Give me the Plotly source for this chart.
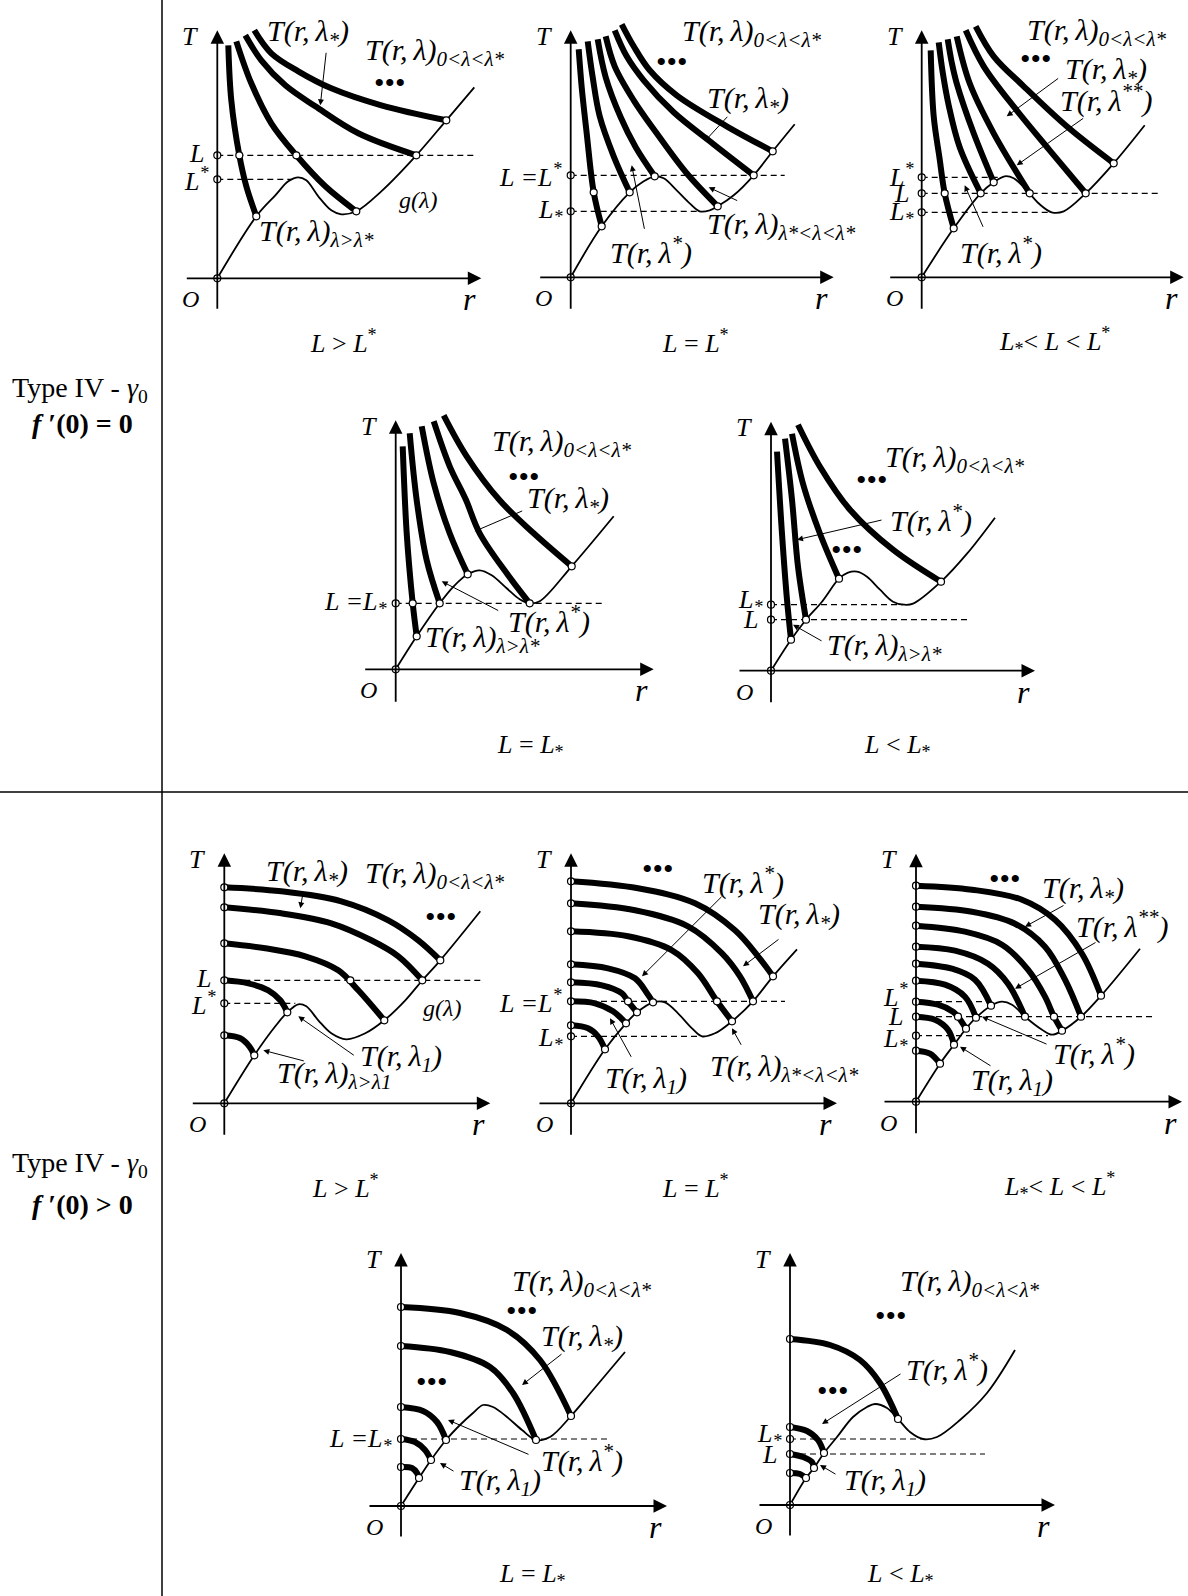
import plotly.graph_objects as go

W, H = 1188, 1596
FONT = "Liberation Serif"

# each panel has its own r-T frame: origin at O, one unit = one screen pixel
# g(lambda) curve (thin), thick T(r, lambda) branches, open circles, dashed levels (T, r_end)

G1 = [(0, 0), (39, 62), (58, 83), (71, 97), (81, 101), (89, 98), (101, 82), (114, 68), (124, 64),
      (139, 67), (164, 87), (199, 123), (229, 158), (257, 191)]
THICK1 = [[(11, 233), (14, 178), (22, 123), (29, 92), (39, 62)],
          [(19, 237), (34, 195), (54, 155), (79, 123), (108, 92), (139, 67)],
          [(28, 243), (44, 218), (68, 193), (98, 172), (141, 145), (199, 123)],
          [(37, 248), (54, 225), (81, 207), (114, 190), (164, 173), (229, 158)]]
DOTS1 = [(0, 0), (0, 123), (0, 99), (22, 123), (79, 123), (199, 123), (39, 62), (139, 67), (229, 158)]
DASH1 = [(123, 256), (99, 74)]

G2 = [(0, 0), (31, 51), (59, 85), (73, 96), (84, 101), (93, 99), (106, 87), (119, 74), (129, 66),
      (139, 67), (147, 71), (163, 82), (183, 102), (202, 126), (224, 153)]
THICK2 = [[(8, 228), (11, 190), (16, 144), (23, 85), (31, 51)],
          [(17, 236), (22, 200), (29, 161), (43, 121), (59, 85)],
          [(27, 238), (35, 200), (50, 160), (65, 130), (84, 101)],
          [(35, 241), (44, 211), (63, 177), (86, 144), (116, 104), (147, 71)],
          [(44, 247), (56, 221), (73, 197), (103, 165), (143, 133), (183, 102)],
          [(51, 253), (63, 231), (79, 207), (106, 182), (156, 151), (202, 126)]]
DOTS2 = [(0, 0), (0, 102), (0, 66), (23, 85), (59, 85), (31, 51), (84, 101), (147, 71), (183, 102), (202, 126)]
DASH2 = [(102, 214), (66, 129)]

G3 = [(0, 0), (32, 49), (59, 84), (72, 95), (83, 101), (92, 99), (105, 87), (118, 73), (130, 65),
      (142, 66), (164, 84), (192, 114), (223, 152)]
THICK3 = [[(9, 227), (12, 161), (18, 118), (23, 84), (32, 49)],
          [(17, 235), (21, 205), (27, 172), (38, 130), (59, 84)],
          [(26, 238), (30, 215), (35, 194), (52, 144), (72, 95)],
          [(35, 241), (48, 194), (72, 144), (108, 84)],
          [(44, 247), (62, 211), (95, 167), (128, 127), (164, 84)],
          [(54, 251), (72, 221), (102, 191), (145, 151), (192, 114)]]
DOTS3 = [(0, 0), (0, 100), (0, 84), (0, 65), (23, 84), (32, 49), (59, 84), (72, 95), (108, 84), (164, 84), (192, 114)]
DASH3 = [(100, 78), (84, 237), (65, 130)]

G4 = [(0, 0), (21, 33), (44, 66), (58, 83), (72, 95), (84, 99), (96, 94), (111, 81), (124, 70),
      (134, 66), (144, 68), (176, 103), (218, 153)]
THICK4 = [[(7, 223), (11, 136), (17, 66), (21, 33)],
          [(14, 236), (21, 169), (31, 109), (44, 66)],
          [(26, 243), (38, 186), (54, 136), (72, 95)],
          [(38, 248), (54, 203), (70, 170), (84, 136), (111, 96), (134, 66)],
          [(48, 254), (71, 213), (104, 169), (138, 136), (176, 103)]]
DOTS4 = [(0, 0), (0, 66), (17, 66), (21, 33), (44, 66), (72, 95), (134, 66), (176, 103)]
DASH4 = [(66, 206)]

G5 = [(0, 0), (20, 31), (35, 51), (51, 69), (68, 92), (77, 98), (86, 99), (96, 94), (109, 81),
      (122, 69), (133, 66), (142, 67), (170, 89), (196, 117), (224, 153)]
THICK5 = [[(6, 219), (11, 137), (16, 71), (20, 31)],
          [(14, 232), (21, 171), (27, 104), (35, 51)],
          [(21, 237), (32, 187), (49, 137), (68, 92)],
          [(27, 246), (49, 204), (79, 161), (122, 121), (170, 89)]]
DOTS5 = [(0, 0), (0, 66), (0, 51), (20, 31), (35, 51), (68, 92), (170, 89)]
DASH5 = [(66, 132), (51, 197)]

G6 = [(0, 0), (30, 48), (51, 77), (63, 91), (74, 99), (82, 97), (94, 83), (107, 70), (122, 64),
      (141, 70), (160, 83), (181, 103), (198, 123), (216, 143), (256, 192)]
THICK6 = [[(0, 68), (16, 65), (25, 57), (30, 48)],
          [(0, 123), (24, 120), (44, 113), (56, 103), (63, 91)],
          [(0, 160), (41, 155), (81, 147), (114, 133), (134, 113), (160, 83)],
          [(0, 196), (57, 190), (107, 180), (147, 163), (174, 147), (198, 123)],
          [(0, 216), (57, 212), (117, 202), (164, 183), (194, 163), (216, 143)]]
DOTS6 = [(0, 0), (0, 216), (0, 196), (0, 160), (0, 123), (0, 100), (0, 68), (30, 48), (63, 91),
         (126, 123), (160, 83), (198, 123), (216, 143)]
DASH6 = [(123, 256), (100, 71)]

G7 = [(0, 0), (34, 54), (55, 80), (66, 91), (82, 101), (94, 101), (107, 90), (121, 75), (131, 67),
      (144, 70), (161, 82), (182, 102), (202, 127), (226, 154)]
THICK7 = [[(0, 78), (17, 75), (27, 67), (34, 54)],
          [(0, 102), (24, 100), (42, 92), (55, 80)],
          [(0, 121), (31, 118), (51, 110), (57, 102), (66, 91)],
          [(0, 139), (37, 135), (64, 125), (76, 110), (82, 101)],
          [(0, 172), (57, 167), (101, 153), (127, 130), (146, 102), (161, 82)],
          [(0, 200), (64, 193), (117, 177), (151, 150), (169, 127), (182, 102)],
          [(0, 222), (67, 215), (124, 200), (164, 173), (187, 147), (202, 127)]]
DOTS7 = [(0, 0), (0, 222), (0, 200), (0, 172), (0, 139), (0, 121), (0, 102), (0, 78), (0, 67),
         (34, 54), (55, 80), (57, 102), (66, 91), (82, 101), (146, 102), (161, 82), (182, 102), (202, 127)]
DASH7 = [(102, 214), (67, 129)]

G8 = [(0, 0), (24, 38), (38, 57), (50, 73), (60, 84), (75, 96), (86, 100), (96, 97), (109, 85),
      (126, 72), (136, 67), (146, 71), (165, 85), (185, 106), (224, 153)]
THICK8 = [[(0, 216), (56, 212), (106, 202), (139, 182), (166, 148), (185, 106)],
          [(0, 195), (56, 190), (99, 178), (129, 155), (149, 122), (165, 85)],
          [(0, 176), (49, 170), (86, 157), (112, 132), (129, 105), (138, 85), (146, 71)],
          [(0, 155), (39, 151), (72, 138), (92, 118), (109, 85)],
          [(0, 138), (36, 133), (59, 122), (75, 96)],
          [(0, 121), (29, 117), (49, 105), (60, 84)],
          [(0, 100), (22, 97), (37, 90), (42, 85), (50, 73)],
          [(0, 85), (19, 82), (32, 72), (38, 57)],
          [(0, 51), (14, 48), (24, 38)]]
DOTS8 = [(0, 0), (0, 216), (0, 195), (0, 176), (0, 155), (0, 138), (0, 121), (0, 100), (0, 85), (0, 66),
         (0, 51), (185, 106), (165, 85), (146, 71), (138, 85), (109, 85), (75, 96), (60, 84), (42, 85),
         (50, 73), (38, 57), (24, 38)]
DASH8 = [(100, 72), (85, 236), (66, 132)]

G9 = [(0, 0), (18, 28), (30, 46), (45, 66), (59, 81), (72, 93), (82, 101), (92, 99), (106, 89),
      (121, 76), (135, 66), (149, 69), (170, 90), (192, 116), (224, 154)]
THICK9 = [[(0, 39), (11, 38), (16, 33), (18, 28)],
          [(0, 67), (14, 64), (24, 56), (30, 46)],
          [(0, 99), (22, 95), (36, 84), (45, 66)],
          [(0, 160), (49, 154), (89, 139), (112, 113), (135, 66)],
          [(0, 199), (59, 193), (106, 176), (139, 146), (170, 90)]]
DOTS9 = [(0, 0), (0, 199), (0, 160), (0, 99), (0, 67), (0, 39), (18, 28), (30, 46), (45, 66), (135, 66), (170, 90)]
DASH9 = [(67, 206)]

G10 = [(0, 0), (16, 27), (24, 37), (34, 52), (47, 68), (63, 88), (77, 98), (85, 101), (97, 97),
       (108, 86), (120, 73), (133, 66), (147, 68), (170, 85), (197, 112), (225, 155)]
THICK10 = [[(0, 32), (10, 31), (16, 27)],
           [(0, 51), (13, 48), (22, 43), (24, 37)],
           [(0, 78), (17, 74), (28, 65), (34, 52)],
           [(0, 166), (40, 160), (70, 145), (90, 122), (108, 86)]]
DOTS10 = [(0, 0), (0, 166), (0, 78), (0, 66), (0, 51), (0, 32), (16, 27), (24, 37), (34, 52), (108, 86)]
DASH10 = [(66, 132), (51, 195)]

# level labels on the T axis
LEVELS1 = [("L", 125), ("L<sup>*</sup>", 99)]
LEVELS2 = [("L =L<sup>*</sup>", 102), ("L<sub>*</sub>", 66)]
LEVELS3 = [("L<sup>*</sup>", 102), ("L", 84), ("L<sub>*</sub>", 64)]
LEVELS4 = [("L =L<sub>*</sub>", 66)]
LEVELS5 = [("L<sub>*</sub>", 70), ("L", 51)]
LEVELS6 = [("L", 125), ("L<sup>*</sup>", 100)]
LEVELS7 = [("L =L<sup>*</sup>", 102), ("L<sub>*</sub>", 64)]
LEVELS8 = [("L<sup>*</sup>", 106), ("L", 85), ("L<sub>*</sub>", 62)]
LEVELS9 = [("L =L<sub>*</sub>", 66)]
LEVELS10 = [("L<sub>*</sub>", 70), ("L", 51)]

SP = "\u2009"
TRL = "T(r," + SP + "λ)"
LO = TRL + "<sub>0&lt;λ&lt;λ*</sub>"
LS = "T(r," + SP + "λ<sub>*</sub>)"
LU = "T(r," + SP + "λ<sup>*</sup>)"
LUU = "T(r," + SP + "λ<sup>**</sup>)"
L1 = "T(r," + SP + "λ<sub>1</sub>)"
LMID = TRL + "<sub>λ*&lt;λ&lt;λ*</sub>"
LGT = TRL + "<sub>λ&gt;λ*</sub>"

LABELS1 = [("big", LS, 91, 245, "center"), ("big", LO, 146, 226, "left"), ("dots", "", 173, 196, "center"),
           ("small", "g(λ)", 201, 78, "center"), ("big", LGT, 40, 45, "left")]
LABELS2 = [("big", LO, 109, 244, "left"), ("dots", "", 101, 216, "center"), ("big", LS, 177, 177, "center"),
           ("big", LMID, 134, 51, "left"), ("big", LU, 80, 27, "center")]
LABELS3 = [("big", LO, 103, 245, "left"), ("dots", "", 114, 219, "center"), ("big", LS, 184, 206, "center"),
           ("big", LUU, 185, 179, "center"), ("big", LU, 79, 27, "center")]
LABELS4 = [("big", LO, 94, 226, "left"), ("dots", "", 128, 193, "center"), ("big", LS, 172, 169, "center"),
           ("big", LU, 153, 50, "center"), ("big", LGT, 27, 30, "left")]
LABELS5 = [("big", LO, 112, 212, "left"), ("dots", "", 101, 191, "center"), ("big", LU, 160, 152, "center"),
           ("dots", "", 76, 121, "center"), ("big", LGT, 54, 24, "left")]
LABELS6 = [("big", LS, 83, 230, "center"), ("big", LO, 139, 228, "left"), ("dots", "", 217, 187, "center"),
           ("small", "g(λ)", 218, 95, "center"), ("big", L1, 177, 45, "center"),
           ("big", TRL + "<sub>λ&gt;λ1</sub>", 51, 28, "left")]
LABELS7 = [("dots", "", 87, 235, "center"), ("big", LU, 172, 223, "center"), ("big", LS, 228, 187, "center"),
           ("big", LMID, 137, 35, "left"), ("big", L1, 75, 23, "center")]
LABELS8 = [("dots", "", 89, 223, "center"), ("big", LS, 167, 212, "center"), ("big", LUU, 206, 177, "center"),
           ("big", LU, 178, 50, "center"), ("big", L1, 96, 20, "center")]
LABELS9 = [("big", LO, 109, 223, "left"), ("dots", "", 121, 196, "center"), ("big", LS, 181, 168, "center"),
           ("dots", "", 31, 125, "center"), ("big", LU, 181, 48, "center"), ("big", L1, 99, 24, "center")]
LABELS10 = [("big", LO, 108, 222, "left"), ("dots", "", 101, 190, "center"), ("big", LU, 157, 138, "center"),
            ("dots", "", 43, 115, "center"), ("big", L1, 95, 23, "center")]

# pointer arrows: tail r, tail T, head r, head T
ARROWS1 = [(109, 227, 103, 173)]
ARROWS2 = [(158, 162, 134, 136), (168, 76, 138, 90), (74, 47, 61, 112)]
ARROWS3 = [(138, 200, 85, 161), (163, 160, 95, 112), (62, 49, 43, 92)]
ARROWS4 = [(128, 159, 79, 138), (104, 58, 46, 88)]
ARROWS5 = [(112, 151, 26, 131), (52, 29, 22, 46)]
ARROWS6 = [(79, 212, 76, 195), (131, 47, 74, 87), (81, 42, 39, 53)]
ARROWS7 = [(152, 208, 71, 127), (209, 165, 172, 137), (171, 57, 161, 75), (61, 45, 39, 85)]
ARROWS8 = [(149, 197, 109, 175), (181, 160, 99, 113), (132, 57, 66, 85), (76, 35, 44, 55)]
ARROWS9 = [(162, 153, 121, 121), (129, 51, 47, 86), (54, 34, 39, 43)]
ARROWS10 = [(112, 132, 32, 81), (47, 30, 30, 40)]

# origin O on the page (px) and axis extent (r_min, r_tip, T_min, T_tip)
PANELS = [
    dict(origin=(217.3, 278.3), axis=(-32, 264, -32, 248), g=G1, thick=THICK1, dots=DOTS1, dash=DASH1, lev=LEVELS1, lab=LABELS1, arr=ARROWS1),
    dict(origin=(570.7, 277.3), axis=(-32, 263, -33, 247), g=G2, thick=THICK2, dots=DOTS2, dash=DASH2, lev=LEVELS2, lab=LABELS2, arr=ARROWS2),
    dict(origin=(921.7, 277.3), axis=(-33, 262, -33, 247), g=G3, thick=THICK3, dots=DOTS3, dash=DASH3, lev=LEVELS3, lab=LABELS3, arr=ARROWS3),
    dict(origin=(395.7, 669.3), axis=(-32, 258, -34, 249), g=G4, thick=THICK4, dots=DOTS4, dash=DASH4, lev=LEVELS4, lab=LABELS4, arr=ARROWS4),
    dict(origin=(771.0, 670.7), axis=(-33, 264, -33, 249), g=G5, thick=THICK5, dots=DOTS5, dash=DASH5, lev=LEVELS5, lab=LABELS5, arr=ARROWS5),
    dict(origin=(224.3, 1103.3), axis=(-33, 266, -33, 250), g=G6, thick=THICK6, dots=DOTS6, dash=DASH6, lev=LEVELS6, lab=LABELS6, arr=ARROWS6),
    dict(origin=(571.0, 1103.3), axis=(-33, 266, -33, 250), g=G7, thick=THICK7, dots=DOTS7, dash=DASH7, lev=LEVELS7, lab=LABELS7, arr=ARROWS7),
    dict(origin=(916.0, 1101.7), axis=(-33, 266, -33, 248), g=G8, thick=THICK8, dots=DOTS8, dash=DASH8, lev=LEVELS8, lab=LABELS8, arr=ARROWS8),
    dict(origin=(401.0, 1506.0), axis=(-33, 266, -32, 253), g=G9, thick=THICK9, dots=DOTS9, dash=DASH9, lev=LEVELS9, lab=LABELS9, arr=ARROWS9),
    dict(origin=(790.0, 1505.0), axis=(-32, 265, -32, 252), g=G10, thick=THICK10, dots=DOTS10, dash=DASH10, lev=LEVELS10, lab=LABELS10, arr=ARROWS10),
]

CAPTIONS = [("<i>L</i> &gt; <i>L</i><sup>*</sup>", 343, 341), ("<i>L</i> = <i>L</i><sup>*</sup>", 695, 341),
            ("<i>L</i><sub>*</sub>&lt; <i>L</i> &lt; <i>L</i><sup>*</sup>", 1054, 341),
            ("<i>L</i> = <i>L</i><sub>*</sub>", 530, 746), ("<i>L</i> &lt; <i>L</i><sub>*</sub>", 897, 746),
            ("<i>L</i> &gt; <i>L</i><sup>*</sup>", 345, 1186), ("<i>L</i> = <i>L</i><sup>*</sup>", 695, 1186),
            ("<i>L</i><sub>*</sub>&lt; <i>L</i> &lt; <i>L</i><sup>*</sup>", 1059, 1186),
            ("<i>L</i> = <i>L</i><sub>*</sub>", 532, 1575), ("<i>L</i> &lt; <i>L</i><sub>*</sub>", 900, 1575)]
ROW_TITLES = [("Type IV - <i>γ</i><sub>0</sub>", 80, 389), ("<b><i>f</i> ′(0) = 0</b>", 82, 423),
              ("Type IV - <i>γ</i><sub>0</sub>", 80, 1164), ("<b><i>f</i> ′(0) &gt; 0</b>", 82, 1204)]

fig = go.Figure()
layout_axes = {}
annotations = []


def add_curve(pts, width, xa, ya, dash=None, shape="spline"):
    fig.add_trace(go.Scatter(
        x=[p[0] for p in pts], y=[p[1] for p in pts], mode="lines",
        line=dict(color="black", width=width, shape=shape, smoothing=1.0, dash=dash),
        xaxis=xa, yaxis=ya, showlegend=False, hoverinfo="skip"))


def txt(xa, ya, text, x, y, size, xanchor="center"):
    annotations.append(dict(xref=xa, yref=ya, x=x, y=y, text=text, showarrow=False,
                            font=dict(family=FONT, size=size, color="black"),
                            xanchor=xanchor, yanchor="middle"))


def arrow(xa, ya, tail, head, width, size):
    annotations.append(dict(xref=xa, yref=ya, axref=xa, ayref=ya, x=head[0], y=head[1],
                            ax=tail[0], ay=tail[1], text="", showarrow=True, arrowhead=2,
                            arrowsize=size, arrowwidth=width, arrowcolor="black"))


for i, p in enumerate(PANELS, start=1):
    s = "" if i == 1 else str(i)
    xa, ya = "x" + s, "y" + s
    ox, oy = p["origin"]
    left, right = max(0, ox - 55), min(W, ox + 285)
    top, bottom = max(0, oy - 285), min(H, oy + 60)
    layout_axes["xaxis" + s] = dict(domain=[left / W, right / W], range=[left - ox, right - ox],
                                    visible=False, fixedrange=True, anchor=ya)
    layout_axes["yaxis" + s] = dict(domain=[1 - bottom / H, 1 - top / H], range=[oy - bottom, oy - top],
                                    visible=False, fixedrange=True, anchor=xa)

    rmin, rtip, tmin, ttip = p["axis"]
    arrow(xa, ya, (rmin, 0), (rtip, 0), 1.8, 1.5)
    arrow(xa, ya, (0, tmin), (0, ttip), 1.8, 1.5)
    txt(xa, ya, "<i>T</i>", -27, ttip - 6, 26)
    txt(xa, ya, "<i>O</i>", -27, -21, 24)
    txt(xa, ya, "<i>r</i>", rtip - 12, -21, 32)

    add_curve(p["g"], 1.8, xa, ya)
    for branch in p["thick"]:
        add_curve(branch, 6, xa, ya)
    for level, rend in p["dash"]:
        add_curve([(0, level), (rend, level)], 1.2, xa, ya, dash="6px,4px", shape="linear")
    fig.add_trace(go.Scatter(
        x=[d[0] for d in p["dots"]], y=[d[1] for d in p["dots"]], mode="markers",
        marker=dict(symbol="circle", size=7, color="white", line=dict(color="black", width=1.2)),
        xaxis=xa, yaxis=ya, showlegend=False, hoverinfo="skip", cliponaxis=False))

    for text, level in p["lev"]:
        edge = -6 if "<su" in text else -11
        txt(xa, ya, "<i>" + text + "</i>", edge, level, 26, "right")
    for kind, text, r, t, anchor in p["lab"]:
        if kind == "dots":
            txt(xa, ya, "•••", r, t, 30, anchor)
        elif kind == "small":
            txt(xa, ya, "<i>" + text + "</i>", r, t, 24, anchor)
        else:
            txt(xa, ya, "<i>" + text + "</i>", r, t, 30, anchor)
    for tr, tt, hr, ht in p["arr"]:
        arrow(xa, ya, (tr, tt), (hr, ht), 1.0, 1.2)

for text, x, y in CAPTIONS:
    annotations.append(dict(xref="paper", yref="paper", x=x / W, y=1 - y / H, text=text, showarrow=False,
                            font=dict(family=FONT, size=26, color="black"), xanchor="center", yanchor="middle"))
for text, x, y in ROW_TITLES:
    annotations.append(dict(xref="paper", yref="paper", x=x / W, y=1 - y / H, text=text, showarrow=False,
                            font=dict(family=FONT, size=28, color="black"), xanchor="center", yanchor="middle"))

shapes = [dict(type="line", xref="paper", yref="paper", x0=162 / W, x1=162 / W, y0=0, y1=1,
               line=dict(color="black", width=1.5)),
          dict(type="line", xref="paper", yref="paper", x0=0, x1=1, y0=1 - 792 / H, y1=1 - 792 / H,
               line=dict(color="black", width=1.5))]

fig.update_layout(width=W, height=H, margin=dict(l=0, r=0, t=0, b=0),
                  paper_bgcolor="white", plot_bgcolor="rgba(0,0,0,0)",
                  annotations=annotations, shapes=shapes, showlegend=False, **layout_axes)
# drop the default page margin so the figure sits at the window's top-left corner
fig.write_html("out.html", config={"displayModeBar": False},
               post_script="document.body.style.margin='0';")
